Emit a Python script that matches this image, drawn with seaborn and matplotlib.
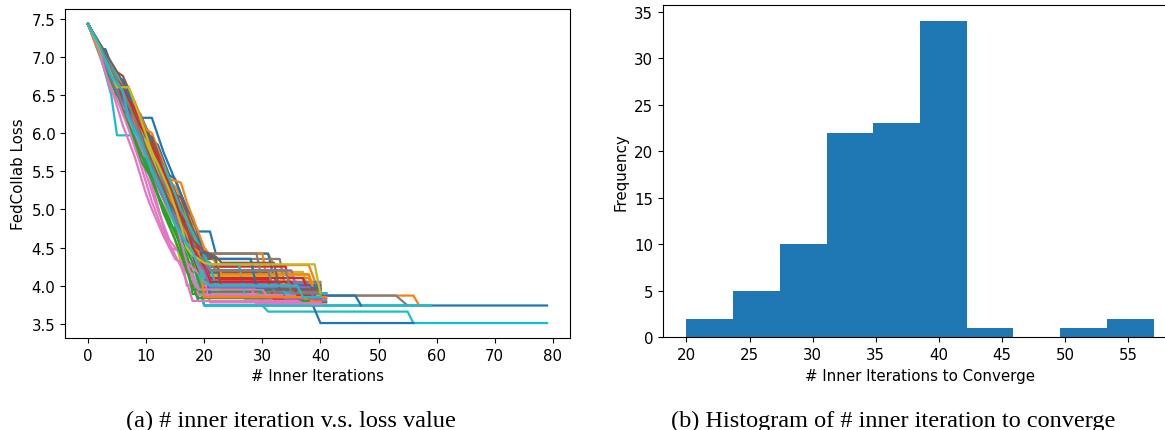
import numpy as np
import pandas as pd
import seaborn as sns
import matplotlib.pyplot as plt

# left panel: loss trajectories (vertices), one list per run
run_iters = [
    [0, 3, 6, 9, 12, 15, 18, 20, 79],
    [0, 4, 7, 10, 13, 16, 18, 20, 31, 32, 38, 40, 56, 57],
    [0, 3, 6, 9, 12, 15, 17, 18, 40],
    [0, 2, 5, 8, 10, 13, 16, 19, 21, 33, 34, 39],
    [0, 3, 6, 9, 12, 15, 18, 20, 28, 29, 40],
    [0, 3, 7, 10, 13, 16, 19, 21, 36, 37, 40],
    [0, 3, 6, 9, 12, 14, 16, 19, 20, 29, 30, 40],
    [0, 3, 6, 9, 12, 15, 18, 20, 53, 55],
    [0, 3, 5, 8, 11, 14, 16, 17, 37, 38, 40],
    [0, 2, 5, 7, 10, 13, 16, 18, 20, 30, 31, 55, 56, 79],
    [0, 3, 6, 9, 11, 13, 16, 18, 19, 21, 22, 31, 32, 37, 38, 40, 56],
    [0, 3, 6, 9, 12, 15, 17, 20, 21, 35, 36, 40],
    [0, 3, 6, 9, 12, 14, 17, 19, 40],
    [0, 4, 7, 10, 13, 16, 18, 20, 39],
    [0, 3, 6, 9, 12, 15, 17, 20, 21, 26, 27, 41],
    [0, 3, 6, 9, 11, 14, 17, 20, 37, 38, 41],
    [0, 3, 6, 8, 10, 12, 14, 16, 17, 28, 29, 40],
    [0, 3, 6, 9, 12, 15, 18, 20, 21, 33, 34, 39],
    [0, 2, 4, 7, 10, 13, 16, 18, 19, 30, 31, 39, 40],
    [0, 2, 4, 5, 8, 11, 14, 17, 19, 20, 59],
    [0, 3, 6, 9, 11, 14, 17, 19, 20, 32, 33, 40],
    [0, 4, 7, 10, 13, 15, 17, 19, 20, 30, 31, 40],
    [0, 3, 6, 9, 12, 15, 18, 20, 36, 37, 40],
    [0, 3, 6, 8, 11, 14, 17, 19, 20, 34, 35, 39],
    [0, 3, 6, 9, 12, 15, 18, 20, 40],
    [0, 3, 5, 8, 11, 14, 17, 18, 19, 31, 32, 39],
    [0, 3, 6, 9, 12, 15, 17, 20, 21, 38, 39, 40],
    [0, 3, 6, 9, 12, 15, 18, 20, 29, 30, 40],
    [0, 3, 6, 9, 12, 15, 17, 19, 20, 33, 34, 40],
    [0, 3, 6, 9, 12, 15, 18, 19, 26, 27, 40],
    [0, 3, 6, 9, 12, 15, 17, 20, 21, 46, 47],
    [0, 3, 6, 9, 12, 15, 18, 20, 21, 34, 35, 38, 39, 41],
    [0, 3, 6, 9, 12, 15, 17, 18, 19, 38],
    [0, 2, 5, 8, 11, 14, 17, 19, 20, 31, 32, 40],
    [0, 3, 6, 9, 12, 15, 18, 19, 20, 35, 36, 40],
    [0, 3, 6, 9, 12, 14, 16, 18, 19, 28, 29, 40],
    [0, 3, 6, 9, 12, 15, 17, 19, 39],
    [0, 3, 6, 9, 12, 15, 18, 20, 21, 30, 31, 38, 39, 41],
    [0, 3, 6, 9, 12, 15, 18, 19, 20, 38, 40],
    [0, 3, 6, 9, 12, 14, 16, 18, 20, 22, 23, 40],
    [0, 2, 3, 5, 6, 8, 9, 11, 12, 14, 15, 17, 18, 20, 21, 39],
    [0, 3, 4, 6, 7, 10, 11, 13, 14, 16, 17, 19, 20, 22, 23, 38, 39, 41],
    [0, 2, 4, 5, 7, 9, 10, 12, 14, 15, 17, 18, 40],
    [0, 3, 4, 6, 8, 9, 11, 13, 14, 16, 18, 19, 20, 21, 37, 38, 41],
    [0, 2, 4, 6, 8, 10, 12, 13, 15, 17, 19, 20, 21, 33, 34, 40],
    [0, 3, 5, 6, 8, 10, 11, 13, 15, 16, 18, 20, 22, 23, 40],
    [0, 2, 4, 6, 8, 10, 11, 13, 15, 16, 18, 19, 30, 31, 39],
    [0, 3, 5, 7, 9, 10, 12, 14, 16, 17, 19, 21, 22, 31, 32, 40],
    [0, 2, 3, 5, 7, 9, 11, 13, 15, 17, 18, 20, 21, 36, 37, 40],
    [0, 3, 5, 7, 8, 10, 12, 14, 16, 17, 19, 21, 22, 33, 34, 41],
    [0, 3, 5, 7, 9, 11, 13, 15, 17, 19, 21, 22, 28, 29, 40],
    [0, 2, 4, 6, 8, 10, 12, 14, 16, 18, 19, 20, 37, 38, 40],
    [0, 3, 5, 7, 9, 11, 13, 15, 17, 18, 19, 38],
    [0, 2, 4, 6, 8, 10, 12, 14, 16, 17, 18, 20, 21, 35, 36, 39],
    [0, 3, 5, 7, 9, 11, 13, 15, 17, 19, 20, 21, 38, 39, 40],
    [0, 2, 4, 6, 8, 10, 12, 14, 16, 18, 20, 22, 23, 32, 33, 40],
    [0, 2, 4, 5, 7, 9, 11, 13, 14, 16, 17, 18, 36, 37, 40],
    [0, 3, 4, 6, 8, 10, 12, 14, 16, 18, 20, 21, 34, 35, 40],
    [0, 3, 5, 7, 9, 11, 12, 14, 16, 17, 18, 20, 21, 39, 40],
    [0, 2, 4, 6, 7, 9, 11, 13, 15, 17, 18, 19, 20, 21, 36, 37, 40],
]
run_losses = [
    [7.43, 6.98, 6.50, 6.00, 5.50, 5.00, 4.45, 3.74, 3.74],
    [7.43, 6.85, 6.35, 5.90, 5.45, 5.00, 4.70, 4.42, 4.42, 4.27, 4.27, 3.87, 3.87, 3.74],
    [7.43, 6.90, 6.35, 5.80, 5.30, 4.80, 4.30, 3.89, 3.89],
    [7.43, 7.10, 6.70, 6.20, 5.90, 5.40, 4.95, 4.40, 4.00, 4.00, 3.85, 3.85],
    [7.43, 6.90, 6.40, 5.95, 5.50, 5.00, 4.55, 4.10, 4.10, 3.95, 3.95],
    [7.43, 7.00, 6.50, 6.05, 5.60, 5.05, 4.60, 4.05, 4.05, 3.88, 3.88],
    [7.43, 6.95, 6.30, 5.70, 5.00, 4.60, 4.40, 4.20, 3.90, 3.90, 3.80, 3.80],
    [7.43, 7.00, 6.50, 6.05, 5.55, 5.05, 4.50, 3.87, 3.87, 3.74],
    [7.43, 6.80, 6.60, 6.15, 5.60, 4.90, 4.30, 4.18, 4.18, 3.95, 3.95],
    [7.43, 7.15, 6.60, 6.35, 5.85, 5.25, 4.75, 4.30, 3.74, 3.74, 3.66, 3.66, 3.51, 3.51],
    [7.43, 6.95, 6.45, 6.20, 6.20, 5.75, 5.20, 4.84, 4.71, 4.71, 4.42, 4.42, 4.10, 4.10, 3.87, 3.51, 3.51],
    [7.43, 6.95, 6.40, 5.95, 5.50, 5.30, 5.00, 4.35, 4.05, 4.05, 3.90, 3.90],
    [7.43, 6.85, 6.30, 5.80, 5.20, 4.85, 4.40, 3.92, 3.92],
    [7.43, 6.80, 6.25, 5.70, 5.25, 4.85, 4.45, 3.98, 3.98],
    [7.43, 6.95, 6.55, 6.10, 5.60, 5.10, 4.65, 4.30, 4.25, 4.25, 3.83, 3.83],
    [7.43, 6.98, 6.55, 6.00, 5.70, 5.25, 4.75, 4.00, 4.00, 3.78, 3.78],
    [7.43, 6.90, 6.35, 6.00, 5.60, 5.05, 4.50, 4.45, 4.00, 4.00, 3.76, 3.76],
    [7.43, 7.00, 6.60, 6.10, 5.60, 5.10, 4.60, 4.40, 4.35, 4.35, 3.95, 3.95],
    [7.43, 7.10, 6.80, 6.60, 6.00, 5.50, 4.95, 4.45, 4.10, 4.10, 4.05, 4.05, 3.80],
    [7.43, 7.05, 6.50, 5.97, 5.97, 5.60, 5.10, 4.60, 4.20, 3.74, 3.74],
    [7.43, 6.95, 6.45, 6.20, 5.85, 5.30, 4.75, 4.20, 4.15, 4.15, 3.85, 3.85],
    [7.43, 6.80, 6.55, 6.00, 5.35, 5.20, 4.95, 4.55, 4.42, 4.42, 4.00, 4.00],
    [7.43, 6.90, 6.35, 5.85, 5.30, 4.80, 4.30, 3.85, 3.85, 3.80, 3.80],
    [7.43, 7.00, 6.55, 6.25, 5.80, 5.15, 4.75, 4.35, 4.25, 4.25, 3.90, 3.90],
    [7.43, 6.95, 6.45, 5.95, 5.45, 4.95, 4.40, 4.02, 4.02],
    [7.43, 7.05, 6.80, 6.40, 5.85, 5.30, 4.80, 4.65, 4.18, 4.18, 3.92, 3.92],
    [7.43, 6.90, 6.40, 5.90, 5.40, 4.85, 4.30, 4.10, 3.78, 3.78, 3.76, 3.76],
    [7.43, 6.97, 6.50, 6.00, 5.50, 5.00, 4.55, 4.42, 4.42, 4.05, 4.05],
    [7.43, 6.90, 6.40, 6.00, 5.50, 5.20, 4.90, 4.30, 4.12, 4.12, 3.98, 3.98],
    [7.43, 6.95, 6.45, 6.10, 5.55, 5.05, 4.55, 4.28, 4.28, 3.86, 3.86],
    [7.43, 7.00, 6.55, 6.05, 5.60, 5.10, 4.80, 4.30, 3.87, 3.87, 3.74],
    [7.43, 7.00, 6.50, 6.05, 5.55, 5.15, 4.70, 4.30, 4.20, 4.20, 4.10, 4.10, 3.85, 3.85],
    [7.43, 6.90, 6.30, 5.75, 5.20, 4.70, 4.30, 4.10, 3.84, 3.84],
    [7.43, 7.15, 6.70, 6.30, 5.70, 5.15, 4.60, 4.20, 4.08, 4.08, 3.82, 3.82],
    [7.43, 6.95, 6.50, 6.00, 5.50, 4.90, 4.50, 4.50, 4.20, 4.20, 3.95, 3.95],
    [7.43, 7.00, 6.60, 6.15, 5.70, 5.40, 5.05, 4.60, 4.35, 4.35, 4.00, 4.00],
    [7.43, 6.90, 6.35, 5.85, 5.30, 4.80, 4.30, 3.88, 3.88],
    [7.43, 7.00, 6.55, 6.10, 5.60, 5.10, 4.60, 4.25, 4.00, 4.00, 3.93, 3.93, 3.80, 3.80],
    [7.43, 6.95, 6.45, 6.00, 5.55, 5.05, 4.50, 4.30, 4.14, 4.14, 3.79],
    [7.43, 7.00, 6.50, 6.10, 5.65, 5.30, 4.90, 4.55, 4.10, 4.10, 3.96, 3.96],
    [7.43, 7.10, 7.10, 6.70, 6.70, 6.30, 6.25, 5.90, 5.85, 5.45, 5.40, 5.00, 4.90, 4.40, 4.00, 4.00],
    [7.43, 6.95, 6.90, 6.60, 6.60, 6.05, 6.00, 5.60, 5.40, 5.35, 5.10, 4.70, 4.50, 4.30, 4.15, 4.15, 3.90, 3.90],
    [7.43, 7.05, 6.75, 6.45, 6.10, 5.70, 5.65, 5.20, 4.80, 4.75, 4.20, 3.95, 3.95],
    [7.43, 7.00, 6.80, 6.50, 6.35, 6.00, 5.85, 5.40, 5.35, 5.00, 4.55, 4.50, 4.30, 4.10, 4.10, 3.90, 3.90],
    [7.43, 7.10, 6.70, 6.30, 6.20, 5.80, 5.40, 5.30, 4.95, 4.60, 4.35, 4.30, 4.05, 4.05, 3.82, 3.82],
    [7.43, 7.05, 6.80, 6.75, 6.40, 6.00, 5.95, 5.55, 5.20, 5.15, 4.75, 4.40, 4.35, 3.95, 3.95],
    [7.43, 7.05, 6.60, 6.10, 5.70, 5.20, 5.00, 4.65, 4.35, 4.30, 4.15, 3.95, 3.95, 3.85, 3.85],
    [7.43, 6.95, 6.70, 6.35, 6.00, 5.95, 5.55, 5.20, 4.85, 4.80, 4.40, 4.30, 4.20, 4.20, 3.92, 3.92],
    [7.43, 7.05, 6.80, 6.75, 6.40, 6.10, 5.70, 5.25, 4.85, 4.60, 4.45, 4.05, 4.00, 4.00, 3.86, 3.86],
    [7.43, 7.00, 6.75, 6.35, 6.00, 5.95, 5.70, 5.40, 5.00, 4.85, 4.55, 4.25, 4.00, 4.00, 3.90, 3.90],
    [7.43, 6.95, 6.55, 6.30, 5.95, 5.60, 5.25, 4.85, 4.60, 4.45, 4.40, 4.35, 4.35, 3.97, 3.97],
    [7.43, 7.10, 6.80, 6.55, 6.15, 5.80, 5.40, 5.15, 4.85, 4.50, 4.45, 3.85, 3.85, 3.80, 3.80],
    [7.43, 6.85, 6.50, 6.10, 5.65, 5.40, 4.95, 4.60, 4.20, 4.00, 3.80, 3.80],
    [7.43, 7.15, 6.80, 6.60, 6.25, 5.95, 5.70, 5.30, 4.90, 4.75, 4.50, 4.25, 4.05, 4.05, 3.88, 3.88],
    [7.43, 6.90, 6.55, 6.25, 5.90, 5.50, 5.15, 4.85, 4.50, 4.30, 4.20, 3.98, 3.98, 3.82, 3.82],
    [7.43, 7.10, 6.85, 6.45, 6.20, 5.80, 5.45, 5.10, 4.85, 4.60, 4.45, 4.38, 4.30, 4.30, 3.95, 3.95],
    [7.43, 7.05, 6.55, 6.45, 6.05, 5.60, 5.10, 4.70, 4.55, 4.25, 4.05, 3.80, 3.80, 3.77, 3.77],
    [7.43, 6.95, 6.85, 6.55, 6.20, 5.75, 5.40, 5.00, 4.70, 4.40, 4.32, 4.20, 4.20, 3.90, 3.90],
    [7.43, 6.95, 6.60, 6.60, 6.20, 5.75, 5.60, 5.25, 4.80, 4.50, 4.40, 4.30, 4.28, 4.28, 3.90],
    [7.43, 7.15, 6.75, 6.55, 6.20, 5.90, 5.50, 5.20, 4.80, 4.55, 4.45, 4.25, 4.05, 4.00, 4.00, 3.85, 3.85],
]

# right panel: histogram of iterations to converge
bin_edges = [20, 23.7, 27.4, 31.1, 34.8, 38.5, 42.2, 45.9, 49.6, 53.3, 57]
bin_counts = [2, 5, 10, 22, 23, 34, 1, 0, 1, 2]

rows = []
for i, (xs, ys) in enumerate(zip(run_iters, run_losses)):
    for x, y in zip(xs, ys):
        rows.append({'run': f'run{i:02d}', 'iter': x, 'loss': y})
df = pd.DataFrame(rows)
run_order = [f'run{i:02d}' for i in range(len(run_iters))]

mids = [(a + b) / 2 for a, b in zip(bin_edges[:-1], bin_edges[1:])]

plt.rcParams['font.size'] = 10.8

fig = plt.figure(figsize=(11.65, 4.31), dpi=100)
W, H = 1165, 431

ax1 = fig.add_axes([65 / W, (H - 339) / H, 505 / W, 329 / H])
sns.lineplot(data=df, x='iter', y='loss', hue='run', hue_order=run_order,
             palette=sns.color_palette('tab10', len(run_order)),
             estimator=None, sort=False, legend=False, linewidth=1.6, ax=ax1)
ax1.set_xlabel('# Inner Iterations')
ax1.set_ylabel('FedCollab Loss')
ax1.set_xticks(range(0, 81, 10))
ax1.set_yticks([3.5, 4.0, 4.5, 5.0, 5.5, 6.0, 6.5, 7.0, 7.5])

ax2 = fig.add_axes([663 / W, (H - 338.3) / H, 514 / W, 332 / H])
sns.histplot(x=mids, weights=bin_counts, bins=bin_edges, color='#1f77b4',
             alpha=1, linewidth=0, edgecolor='none', ax=ax2)
ax2.set_xlabel('# Inner Iterations to Converge')
ax2.set_ylabel('Frequency')
ax2.set_xticks(range(20, 56, 5))
ax2.set_yticks(range(0, 36, 5))

cap = dict(ha='center', va='baseline', family='Liberation Serif', fontsize=17.5)
fig.text(291 / W, 4 / H, '(a) # inner iteration v.s. loss value', **cap)
fig.text(893 / W, 4 / H, '(b) Histogram of # inner iteration to converge', **cap)

fig.savefig('out.png', dpi=100)
